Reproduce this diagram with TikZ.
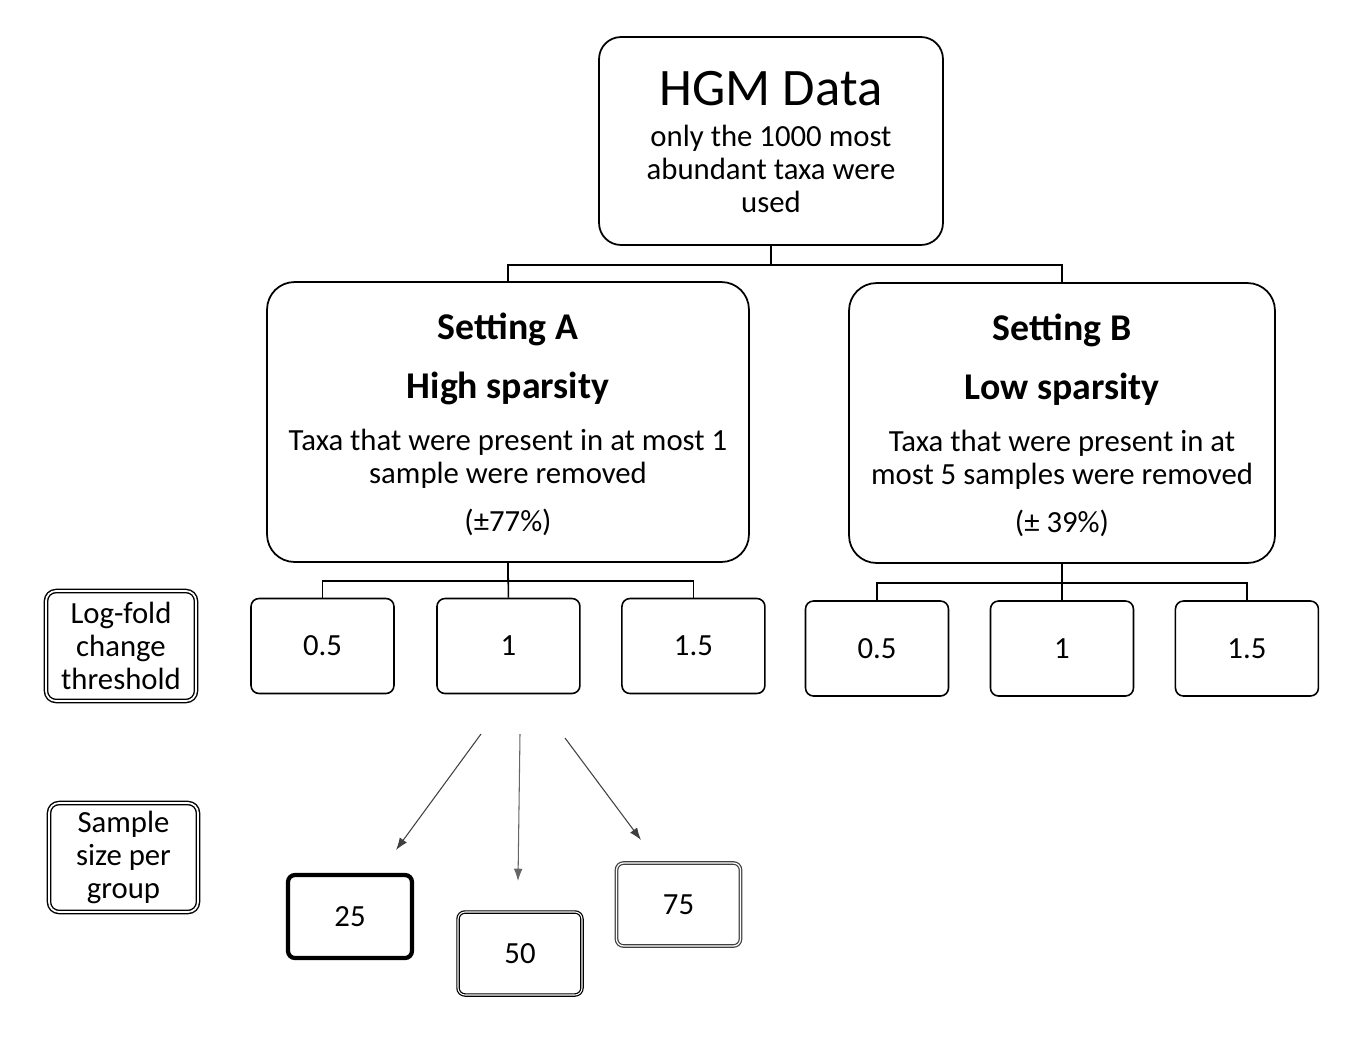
\documentclass[tikz,border=0pt]{standalone}
\usepackage{fontspec}
\setmainfont{Carlito}
\usetikzlibrary{positioning, arrows.meta}
\tikzset{databox/.style = {draw, rounded corners=0.44cm, line width=1pt, minimum width=6.88cm, minimum height=4.16cm}}
\tikzset{settingbox/.style = {draw, rounded corners=0.55cm, line width=1pt, minimum height=5.6cm}}
\tikzset{valbox/.style = {draw, rounded corners=0.16cm, line width=0.9pt, minimum width=2.86cm, minimum height=1.9cm, font=\fontsize{17.5}{19}\selectfont}}
\tikzset{labelbox/.style = {draw, rounded corners=0.2cm, double, line width=0.8pt, double distance=1pt, align=center, inner sep=0pt, font=\fontsize{17.5}{19}\selectfont}}
\tikzset{sizebox/.style = {draw, rounded corners=0.14cm, minimum width=2.48cm, minimum height=1.66cm, font=\fontsize{17.5}{19}\selectfont}}
\tikzset{headtext/.style = {font=\fontsize{21.5}{25}\selectfont\bfseries}}
\tikzset{bodytext/.style = {align=center, font=\fontsize{17.5}{18.8}\selectfont}}
\tikzset{bus/.style = {line width=0.9pt}}

\begin{document}
\begin{tikzpicture}[x=0.02cm, y=-0.02cm, >={Latex[length=7pt, width=5pt]}, semithick]
  \useasboundingbox (0,0) rectangle (1366,1039);
  % top box
  \node [databox] (hgm) at (771,141) {};
  \node [font=\fontsize{30}{36}\selectfont] (hgmT) at (771,89) {HGM Data};
  \node [bodytext] (hgmS) at (771,169) {only the 1000 most\\abundant taxa were\\used};
  % the two settings
  \node [settingbox, minimum width=9.64cm] (setA) at (508,422) {};
  \node [headtext] (aT) at (508,329) {Setting A};
  \node [headtext] (aS) at (508,388) {High sparsity};
  \node [bodytext] (aTxt) at (508,459) {Taxa that were present in at most 1\\sample were removed};
  \node [bodytext] (aPct) at (508,522) {(±77\%)};
  \node [settingbox, minimum width=8.52cm] (setB) at (1062,423) {};
  \node [headtext] (bT) at (1062,330) {Setting B};
  \node [headtext] (bS) at (1062,389) {Low sparsity};
  \node [bodytext] (bTxt) at (1062,460) {Taxa that were present in at\\most 5 samples were removed};
  \node [bodytext] (bPct) at (1062,523) {(± 39\%)};
  \draw [bus] (hgm.south) -- ++(0,19) -| (setA.north);
  \draw [bus] (hgm.south) -- ++(0,19) -| (setB.north);
  % thresholds
  \node [valbox] (a05) at (322.5,646) {0.5};
  \node [valbox, right=3.72cm of a05.center, anchor=center] (a1) {1};
  \node [valbox, right=3.7cm of a1.center, anchor=center] (a15) {1.5};
  \node [valbox] (b05) at (877,648.5) {0.5};
  \node [valbox, right=3.7cm of b05.center, anchor=center] (b1) {1};
  \node [valbox, right=3.7cm of b1.center, anchor=center] (b15) {1.5};
  \draw [bus] (setA.south) -- ++(0,18) -| (a05.north);
  \draw [bus] (setA.south) -- ++(0,18) -| (a15.north);
  \draw [bus] (setA.south) -- (a1.north);
  \draw [bus] (setB.south) -- ++(0,19) -| (b05.north);
  \draw [bus] (setB.south) -- ++(0,19) -| (b15.north);
  \draw [bus] (setB.south) -- (b1.north);
  % labels on the left
  \node [labelbox, minimum width=3.0cm, minimum height=2.2cm] (lfc) at (121,646) {Log-fold\\change\\threshold};
  \node [labelbox, minimum width=2.98cm, minimum height=2.18cm] (ssz) at (123.5,857.5) {Sample\\size per\\group};
  % sample sizes
  \node [sizebox, line width=2.4pt] (n25) at (350,916.5) {25};
  \node [sizebox, double, line width=0.7pt, double distance=0.6pt] (n50) at (520,953.5) {50};
  \node [sizebox, double, draw=black!75, line width=0.7pt, double distance=0.7pt] (n75) at (678.5,904.5) {75};
  \coordinate (s25) at (481,734);
  \coordinate (e25) at (396,850);
  \coordinate (s50) at (520,734);
  \coordinate (e50) at (518,881);
  \coordinate (s75) at (565,738);
  \coordinate (e75) at (641,840);
  \draw [->, black!75, line width=0.6pt] (s25) -- (e25);
  \draw [->, black!60, line width=0.6pt] (s50) -- (e50);
  \draw [->, black!75, line width=0.6pt] (s75) -- (e75);
\end{tikzpicture}
\end{document}
